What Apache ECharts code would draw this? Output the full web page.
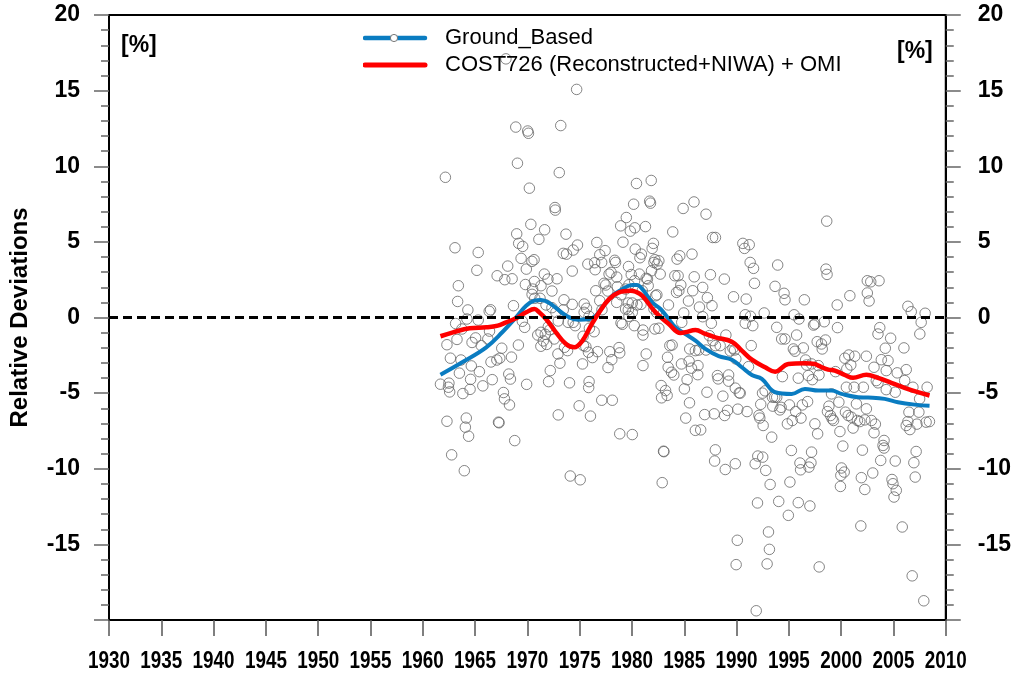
<!DOCTYPE html>
<html>
<head>
<meta charset="utf-8">
<script src="https://cdn.jsdelivr.net/npm/echarts@6/dist/echarts.min.js"></script>
<style>
  html, body { margin: 0; padding: 0; background: #fff; }
  #chart { width: 1014px; height: 673px; }
</style>
</head>
<body>
<div id="chart"></div>
<script>
// Monthly relative deviations of ground-based total ozone [%], [decimal year, value]
const obs1960s = [
  [1961.69,-4.41],[1962.16,9.27],[1962.31,-1.80],[1962.31,-6.86],[1962.50,-4.34],[1962.45,-4.61],[1962.57,-4.92],
  [1962.64,-2.69],[1962.76,-9.08],[1963.08,4.61],[1963.14,-0.40],[1963.27,-1.45],[1963.40,2.10],[1963.33,1.06],
  [1963.50,-3.68],[1963.65,-2.81],[1963.74,-0.76],[1963.83,-5.03],[1963.97,-10.13],[1964.07,-7.25],[1964.16,-6.65],
  [1964.22,-0.10],[1964.31,0.50],[1964.38,-7.85],[1964.57,-4.09],[1964.52,-4.75],[1964.64,-3.20],[1964.71,-1.65],
  [1965.05,-1.35],[1965.17,3.12],[1965.30,4.30],[1965.30,-0.17],[1965.41,-3.58],[1965.59,-1.86],[1965.74,-4.52],
  [1966.22,-1.42],[1966.38,-0.90],[1966.35,0.41],[1966.48,0.51],[1966.52,-2.94],[1966.64,-4.11],[1967.08,-2.81],
  [1967.11,2.76],[1967.24,-6.92],[1967.29,-6.96],[1967.36,-2.69],[1967.55,-2.03],[1967.71,-4.96],[1967.81,-5.38],
  [1967.84,2.50],[1967.95,17.10],[1968.12,3.40],[1968.22,-3.74],[1968.29,-5.78],[1968.38,-4.07],[1968.48,-2.62],
  [1968.54,2.56],[1968.67,0.78],[1968.79,-8.14],[1968.89,12.59],[1968.98,5.53],[1969.05,10.20],[1969.14,-1.82],
  [1969.17,4.90],[1969.40,3.91],[1969.55,4.70],[1969.52,-0.25],[1969.74,-0.65],[1969.81,2.18],[1969.90,3.20],
  [1969.93,-4.42]
];
const obs1970s = [
  [1970.03,12.33],[1970.10,12.18],[1970.19,8.55],[1970.33,6.16],[1970.43,3.71],[1970.64,3.82],[1970.45,1.53],
  [1970.50,1.88],[1970.67,2.38],[1970.70,1.27],[1970.99,-1.16],[1971.10,5.17],[1971.21,1.27],[1971.29,-1.90],
  [1971.30,2.10],[1971.30,-0.98],[1971.52,-1.55],[1971.62,2.87],[1971.65,5.80],[1971.71,-1.11],[1971.78,0.83],
  [1971.84,-1.78],[1971.97,2.54],[1972.00,-0.61],[1972.03,-4.24],[1972.16,-0.81],[1972.19,-3.51],[1972.35,1.75],
  [1972.35,0.65],[1972.57,-1.42],[1972.64,7.27],[1972.67,7.10],[1972.73,0.34],[1972.83,2.56],[1972.92,-2.41],
  [1972.95,-6.44],[1972.95,-0.23],[1973.05,9.58],[1973.11,-3.02],[1973.19,12.69],[1973.43,4.24],[1973.43,0.50],
  [1973.50,1.17],[1973.55,-1.97],[1973.69,5.51],[1973.74,4.19],[1973.84,-2.19],[1973.90,-0.32],[1974.03,-4.32],
  [1974.10,-10.48],[1974.29,3.07],[1974.29,0.87],[1974.38,4.46],[1974.38,-0.32],[1974.57,-0.54],[1974.71,15.08],
  [1974.79,4.79],[1974.95,-5.84],[1975.05,-10.73],
  [1975.27,-3.07],[1975.33,-1.24],[1975.36,-1.86],[1975.43,0.89],[1975.43,0.34],[1975.59,-1.93],[1975.65,0.61],
  [1975.78,3.53],[1975.84,-2.30],[1975.86,-4.63],[1975.90,-4.24],[1975.90,0.08],[1975.93,-0.71],[1976.03,-6.52],
  [1976.22,-2.65],[1976.38,-0.94],[1976.43,3.62],[1976.48,3.16],[1976.54,1.77],[1976.64,4.96],[1976.70,-2.26],
  [1976.92,4.15],[1976.92,1.11],[1977.10,3.64],[1977.11,-5.47],[1977.13,0.51],[1977.33,2.26],[1977.43,4.42],
  [1977.49,2.15],[1977.69,1.75],[1977.71,-3.31],[1977.81,2.87],[1977.88,-2.26],[1978.00,2.98],[1978.07,-2.79],
  [1978.12,-5.47],[1978.35,3.78],[1978.43,3.64],[1978.54,2.67],[1978.54,1.00],[1978.60,2.03],[1978.76,-1.99],
  [1978.83,-2.34],[1978.83,-7.69],[1978.92,6.06],[1978.95,-0.36],[1978.95,1.50],[1979.08,-0.45],[1979.14,4.98],
  [1979.39,1.88],[1979.39,0.56],[1979.46,6.61],[1979.65,0.51],[1979.65,0.96],[1979.67,3.37],[1979.71,0.08],
  [1979.71,2.17],[1979.84,5.71],[1979.93,2.84]
];
const obs1980s = [
  [1980.03,0.34],[1980.03,-7.74],[1980.03,0.96],[1980.16,7.49],[1980.22,-0.54],[1980.25,2.43],[1980.27,5.93],
  [1980.31,4.52],[1980.43,8.86],[1980.48,0.83],[1980.71,2.87],[1980.76,3.95],[1980.86,0.87],[1980.90,4.19],
  [1980.98,1.77],[1981.05,-0.83],[1981.05,-1.16],[1981.05,-3.18],[1981.29,6.01],[1981.36,-2.41],[1981.36,2.59],
  [1981.48,2.54],[1981.55,2.10],[1981.69,7.69],[1981.77,7.56],[1981.84,9.06],[1981.87,3.09],[1981.93,4.57],
  [1982.05,4.90],[1982.10,0.56],[1982.10,3.64],[1982.19,3.82],[1982.19,-0.76],[1982.26,1.44],[1982.35,0.34],
  [1982.38,1.50],[1982.41,3.53],[1982.57,3.75],[1982.57,-0.71],[1982.70,2.87],[1982.79,-4.50],[1982.83,-5.31],
  [1982.89,-10.92],[1983.02,-8.84],[1983.05,-8.87],[1983.21,-4.83],[1983.36,-5.15],[1983.40,-2.63],[1983.46,-3.29],
  [1983.49,0.83],[1983.62,-1.86],[1983.78,-3.62],[1983.84,-1.82],[1983.90,5.66],[1984.00,-3.80],[1984.10,2.76],
  [1984.26,1.66],[1984.31,3.86],[1984.41,2.76],[1984.48,1.77],[1984.57,4.08],[1984.67,2.15],[1984.73,-3.07],
  [1984.76,-0.32],[1984.89,7.21],[1984.95,0.30],[1985.01,-4.72],[1985.14,-6.65],
  [1985.27,-4.11],[1985.40,1.09],[1985.46,-2.89],[1985.50,-5.64],[1985.52,-2.08],[1985.69,-3.35],[1985.74,4.19],
  [1985.81,1.77],[1985.93,7.64],[1985.95,2.69],[1986.06,-2.19],[1986.06,-7.46],[1986.29,-3.78],[1986.31,-3.18],
  [1986.38,-2.15],[1986.45,0.69],[1986.57,-7.43],[1986.76,1.99],[1986.76,0.05],[1986.95,-6.42],[1987.08,6.83],
  [1987.08,-2.15],[1987.17,-4.94],[1987.21,1.31],[1987.40,-1.20],[1987.50,2.83],[1987.59,-0.38],[1987.65,0.78],
  [1987.71,5.29],[1987.74,-1.53],[1987.86,-6.37],[1987.97,-8.75],[1987.90,-9.49],[1987.98,5.29],[1987.98,-1.86],
  [1988.17,-3.84],[1988.24,-4.06],[1988.43,-1.86],[1988.69,-5.20],[1988.83,2.54],[1988.86,-6.48],[1988.92,-10.05],
  [1988.98,-1.16],[1989.14,-6.14],[1989.24,-3.80],[1989.24,-4.21],[1989.40,-2.21],[1989.65,-2.03],[1989.71,1.37],
  [1989.81,-2.15],[1989.88,-4.67],[1989.88,-9.67],[1989.93,-2.74],[1989.96,-16.34]
];
const obs1990s = [
  [1990.07,-14.73],[1990.12,-6.06],[1990.26,-4.98],[1990.35,-5.00],[1990.60,4.90],[1990.76,4.57],[1990.83,0.18],
  [1990.83,-0.38],[1990.92,1.22],[1991.00,-6.22],[1991.14,-3.25],[1991.21,4.81],[1991.30,3.64],[1991.33,0.08],
  [1991.40,-1.86],[1991.55,-0.54],[1991.62,3.25],[1991.71,2.26],[1991.78,-9.67],[1991.88,-19.39],[1992.00,-12.26],
  [1992.03,-9.16],[1992.14,-6.47],[1992.22,-6.65],[1992.31,-5.74],[1992.48,-5.00],[1992.50,-9.23],[1992.54,-7.14],
  [1992.64,0.30],[1992.73,-4.85],[1992.79,-10.11],[1992.92,-16.29],[1993.05,-14.18],[1993.14,-15.33],[1993.21,-11.04],
  [1993.36,-7.91],[1993.43,-5.27],[1993.46,-5.86],[1993.65,-5.27],[1993.68,2.06],[1993.84,-5.27],[1993.84,-0.65],
  [1993.93,3.47],[1994.03,-12.16],[1994.14,-6.11],[1994.26,-5.94],[1994.31,-1.42],[1994.38,-3.91],[1994.54,1.60],
  [1994.63,1.17],[1994.63,-1.42],[1994.86,-7.03],[1994.95,-13.08],[1995.05,-5.78],[1995.10,-10.88],[1995.24,-8.79],
  [1995.33,-6.81],[1995.43,-2.08],[1995.50,0.18],[1995.59,-2.23],[1995.65,-6.22],[1995.74,-1.16],[1995.90,-4.01],
  [1995.90,-12.24],[1995.97,-0.10],[1996.06,-9.62],[1996.12,-10.07],[1996.16,-6.65],[1996.29,-5.78],[1996.38,-2.01],
  [1996.48,1.17],[1996.60,-2.81],[1996.70,-3.14],[1996.79,-5.56],[1996.86,-3.84],[1996.92,-9.89],[1997.01,-12.46],
  [1997.11,-9.60],[1997.17,-8.90],[1997.17,-3.07],[1997.24,-4.11],[1997.36,-0.50],[1997.49,-0.43],[1997.49,-7.03],
  [1997.71,-1.60],[1997.75,-7.69],[1997.81,-3.18],[1997.88,-3.80],[1997.90,-16.49],[1998.12,-1.75],[1998.19,-2.08],
  [1998.38,-0.28],[1998.50,-1.49],[1998.55,3.20],[1998.62,6.37],[1998.65,2.85],[1998.69,-6.22],[1998.83,-5.86],
  [1998.98,-6.48],[1999.08,-5.05],[1999.14,-6.70],[1999.27,-6.81],[1999.46,-3.58],[1999.62,0.83],[1999.65,-0.67],
  [1999.78,-5.60],[1999.88,-7.54],[1999.93,-11.17],[1999.97,-10.44]
];
const obs2000s = [
  [2000.03,-9.95],[2000.16,-8.50],[2000.29,-10.22],[2000.35,-2.69],[2000.41,-6.26],[2000.50,-4.61],[2000.54,-3.40],
  [2000.67,-6.48],[2000.73,-2.48],[2000.83,1.44],[2000.92,-3.14],[2000.98,-6.59],[2001.14,-7.31],[2001.24,-4.61],
  [2001.30,-2.56],[2001.46,-5.71],[2001.55,-6.81],[2001.78,-6.88],[2001.88,-13.78],[2001.93,-10.59],[2002.03,-8.77],
  [2002.12,-4.61],[2002.26,-6.77],[2002.26,-11.37],[2002.41,-2.56],[2002.41,-6.04],[2002.50,2.43],[2002.50,1.62],
  [2002.67,1.09],[2002.83,2.36],[2002.89,-6.81],[2003.02,-10.28],[2003.14,-3.29],[2003.14,-7.62],[2003.27,-7.05],
  [2003.36,-4.17],[2003.52,-1.09],[2003.52,-4.32],[2003.62,2.43],[2003.69,-0.67],[2003.78,-9.45],[2003.84,-2.79],
  [2004.00,-8.46],[2004.10,-8.13],[2004.10,-8.63],[2004.22,-2.03],[2004.31,-3.51],[2004.31,-4.77],[2004.48,-2.85],
  [2004.73,-1.37],[2004.86,-10.71],[2004.95,-10.99],[2005.05,-11.87],[2005.17,-4.94],[2005.17,-9.49],[2005.27,-11.43],
  [2005.36,-3.66],[2005.84,-13.85],[2006.00,-2.01],[2006.07,-4.17],[2006.22,-3.45],[2006.22,-7.14],[2006.38,0.74],
  [2006.38,-6.88],[2006.48,-6.26],[2006.57,-7.41],[2006.70,0.38],[2006.79,-17.08],[2006.86,-4.61],[2006.95,-9.60],
  [2007.08,-10.55],[2007.17,-8.86],[2007.24,-7.05],[2007.43,-6.26],[2007.50,-5.38],[2007.52,-1.09],[2007.65,-0.32],
  [2007.90,-18.73],[2008.03,0.28],[2008.12,-6.92],[2008.22,-4.61],[2008.44,-6.88]
];

// Smoothed ground-based curve [decimal year, %]
const groundSmooth = [
  [1961.69,-3.78],[1963.81,-2.94],[1966.07,-1.97],[1967.62,-0.96],[1968.92,0.01],[1969.88,0.78],[1970.67,1.11],
  [1971.30,1.16],[1972.10,0.96],[1973.05,0.45],[1974.00,0.01],[1974.95,-0.15],[1975.90,-0.10],[1976.54,0.12],
  [1977.17,0.67],[1978.12,1.44],[1979.08,1.88],[1980.03,2.15],[1980.50,2.15],[1980.98,1.88],[1981.93,1.00],
  [1982.73,0.56],[1983.52,-0.10],[1984.16,-0.65],[1985.11,-1.09],[1986.07,-1.53],[1987.02,-2.08],[1988.29,-2.56],
  [1989.55,-2.79],[1990.50,-3.29],[1991.46,-3.80],[1992.41,-4.06],[1993.69,-4.94],[1995.27,-5.05],[1996.54,-4.72],
  [1997.81,-4.83],[1999.08,-4.83],[2000.03,-5.05],[2001.62,-5.27],[2002.57,-5.29],[2004.16,-5.38],[2005.43,-5.60],
  [2007.02,-5.76],[2008.45,-5.84]
];

// Smoothed COST726 (Reconstructed+NIWA) + OMI curve [decimal year, %]
const costSmooth = [
  [1961.69,-1.24],[1962.89,-0.98],[1964.48,-0.71],[1966.07,-0.65],[1967.17,-0.54],[1967.97,-0.32],[1968.92,-0.05],
  [1969.88,0.34],[1970.67,0.56],[1971.14,0.34],[1971.78,-0.10],[1972.73,-0.98],[1973.69,-1.75],[1974.48,-1.97],
  [1975.27,-1.53],[1976.07,-0.54],[1976.86,0.34],[1977.81,1.22],[1978.76,1.66],[1979.88,1.77],[1980.35,1.70],
  [1980.98,1.44],[1982.26,0.34],[1983.52,-0.43],[1984.63,-1.02],[1985.11,-0.98],[1986.07,-0.83],[1987.02,-1.09],
  [1987.97,-1.31],[1989.55,-1.60],[1990.50,-2.19],[1991.46,-2.79],[1992.73,-3.29],[1993.69,-3.58],[1994.95,-3.07],
  [1996.54,-3.02],[1997.49,-3.07],[1997.81,-3.18],[1998.76,-3.45],[1999.40,-3.51],[2000.35,-3.80],[2001.14,-3.99],
  [2002.41,-3.78],[2003.52,-3.99],[2004.79,-4.32],[2006.06,-4.65],[2007.33,-4.94],[2008.45,-5.16]
];

const yearTicks = { min: 1930, max: 2010, step: 5 };
const valueTicks = { min: -20, max: 20, step: 5 };

const BLUE = '#0a7cc1';
const RED = '#ff0000';
const CIRCLE = '#666666';

function svgIcon(body) {
  const svg = '<svg xmlns="http://www.w3.org/2000/svg" width="77" height="12" viewBox="0 0 77 12">' + body + '</svg>';
  return 'image://data:image/svg+xml;charset=utf-8,' + encodeURIComponent(svg);
}
const blueIcon = svgIcon(
  '<line x1="2" y1="6" x2="62" y2="6" stroke="' + BLUE + '" stroke-width="4.5" stroke-linecap="round"/>' +
  '<circle cx="31" cy="6" r="3.6" fill="#fff" stroke="#777" stroke-width="1"/>'
);
const redIcon = svgIcon(
  '<line x1="2" y1="6" x2="62" y2="6" stroke="' + RED + '" stroke-width="5" stroke-linecap="round"/>'
);

const boldFont = '"Liberation Sans", Arial, Helvetica, sans-serif';

const valueAxis = (pos) => ({
  type: 'value',
  position: pos,
  min: valueTicks.min,
  max: valueTicks.max,
  interval: valueTicks.step,
  axisLine: { show: true, onZero: false, lineStyle: { color: '#000', width: 2 } },
  axisTick: { show: true, length: 15, lineStyle: { color: '#666', width: 1.5 } },
  minorTick: { show: true, splitNumber: 5, length: 8, lineStyle: { color: '#666', width: 1.5 } },
  splitLine: { show: false },
  axisLabel: {
    margin: pos === 'left' ? 29 : 32,
    fontFamily: boldFont, fontWeight: 'bold', fontSize: 23, color: '#000',
    formatter: (v) => (v === valueTicks.min ? '' : String(v))
  }
});

const percentMarks = [
  { type: 'text', left: 121, top: 34,
    style: { text: '[%]', font: 'bold 23px ' + boldFont, fill: '#000' } },
  { type: 'text', left: 897, top: 40,
    style: { text: '[%]', font: 'bold 23px ' + boldFont, fill: '#000' } }
];

const chart = echarts.init(document.getElementById('chart'), null, { renderer: 'canvas' });
chart.setOption({
  animation: false,
  backgroundColor: '#fff',
  grid: {
    left: 108, right: 66, top: 15, bottom: 53,
    show: true, borderColor: '#000', borderWidth: 2, backgroundColor: 'transparent'
  },
  legend: {
    orient: 'vertical',
    left: 363, top: 27, padding: 0,
    itemWidth: 77, itemHeight: 12, itemGap: 5,
    selectedMode: false,
    textStyle: { fontFamily: boldFont, fontSize: 22, lineHeight: 22, color: '#000' },
    data: [
      { name: 'Ground_Based', icon: blueIcon },
      { name: 'COST726 (Reconstructed+NIWA) + OMI', icon: redIcon }
    ]
  },
  xAxis: {
    type: 'value',
    min: yearTicks.min, max: yearTicks.max, interval: yearTicks.step,
    axisLine: { show: true, onZero: false, lineStyle: { color: '#000', width: 2 } },
    axisTick: { show: true, length: 16, lineStyle: { color: '#555', width: 1.5 } },
    splitLine: { show: false },
    // year labels are drawn below as condensed text placed at the axis ticks
    axisLabel: { show: false }
  },
  yAxis: [
    Object.assign(valueAxis('left'), {
      name: 'Relative Deviations',
      nameLocation: 'middle',
      nameGap: 77,
      nameTextStyle: { fontFamily: boldFont, fontWeight: 'bold', fontSize: 24, color: '#000' }
    }),
    valueAxis('right')
  ],
  graphic: percentMarks,
  series: [
    {
      name: 'Ground_Based monthly',
      type: 'scatter',
      symbol: 'circle',
      symbolSize: 10.5,
      itemStyle: { color: 'rgba(255,255,255,0)', borderColor: CIRCLE, borderWidth: 1 },
      data: [].concat(obs1960s, obs1970s, obs1980s, obs1990s, obs2000s),
      markLine: {
        silent: true,
        symbol: 'none',
        label: { show: false },
        lineStyle: { color: '#000', type: [9, 5], width: 3 },
        data: [{ yAxis: 0 }]
      },
      z: 2
    },
    {
      name: 'Ground_Based',
      type: 'line',
      data: groundSmooth,
      smooth: 0.4,
      showSymbol: false,
      lineStyle: { color: BLUE, width: 4 },
      itemStyle: { color: BLUE },
      z: 3
    },
    {
      name: 'COST726 (Reconstructed+NIWA) + OMI',
      type: 'line',
      data: costSmooth,
      smooth: 0.4,
      showSymbol: false,
      lineStyle: { color: RED, width: 4.5 },
      itemStyle: { color: RED },
      z: 4
    }
  ]
});

// Year labels in a narrow bold face: horizontally condensed text centred on each x-axis tick
const axisBottom = chart.convertToPixel({ yAxisIndex: 0 }, valueTicks.min);
const yearLabels = [];
for (let yr = yearTicks.min; yr <= yearTicks.max; yr += yearTicks.step) {
  const px = chart.convertToPixel({ xAxisIndex: 0 }, yr);
  yearLabels.push({
    type: 'text',
    x: px, y: axisBottom + 42,
    scaleX: 0.82,
    silent: true,
    style: {
      text: String(yr), x: 0, y: 0, align: 'center', verticalAlign: 'middle',
      font: 'bold 23px ' + boldFont, fill: '#000'
    }
  });
}
chart.setOption({ graphic: percentMarks.concat(yearLabels) });
</script>
</body>
</html>
